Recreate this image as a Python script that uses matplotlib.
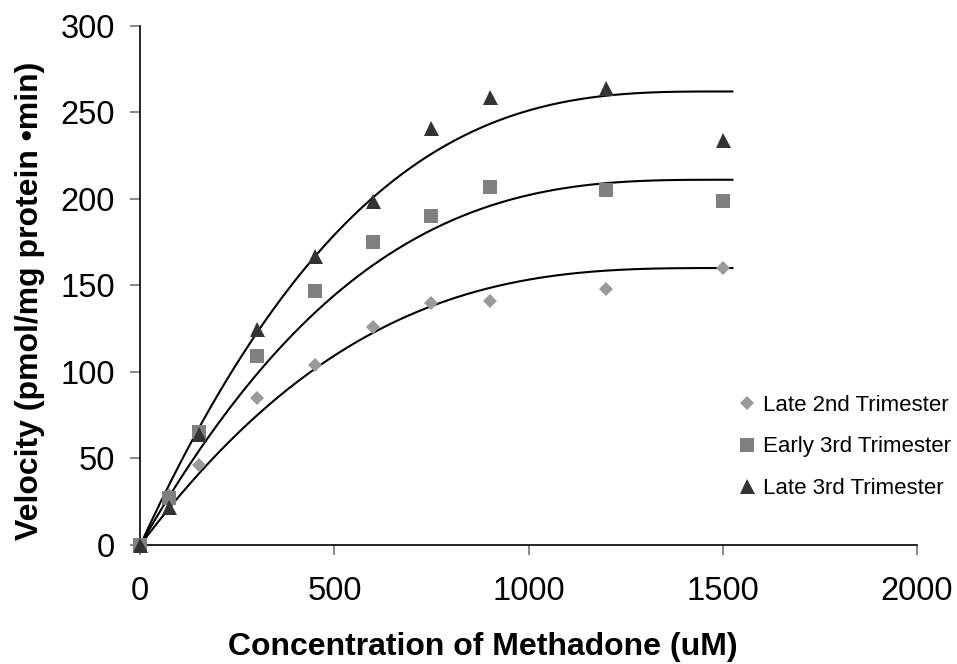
import numpy as np
import matplotlib
matplotlib.use('Agg')
import matplotlib.pyplot as plt

plt.rcParams['font.family'] = ['Liberation Sans', 'DejaVu Sans']

conc = [0, 75, 150, 300, 450, 600, 750, 900, 1200, 1500]
late_2nd = [0, 29, 46, 85, 104, 126, 140, 141, 148, 160]
early_3rd = [0, 27, 65, 109, 147, 175, 190, 207, 205, 199]
late_3rd = [0, 22, 64, 125, 167, 199, 241, 259, 264, 234]

# saturation trendline: plateau * (1 - (1 - t)^3 * (1 + k t)), t = x / x_flat
plateaus = [160, 211, 262]
x_flat = 1500
k = 0.2
x_end = 1525

series = [
    ("Late 2nd Trimester", late_2nd, 'D', '#9a9a9a', 7.2),
    ("Early 3rd Trimester", early_3rd, 's', '#808080', 9.4),
    ("Late 3rd Trimester", late_3rd, '^', '#333333', 10.8),
]

fig = plt.figure(figsize=(9.57, 6.64), dpi=100)
ax = fig.add_axes([0.1466, 0.1792, 0.8114, 0.7821])

x_fit = np.linspace(0, x_end, 300)
t = np.clip(x_fit / x_flat, 0, 1)
shape = 1 - (1 - t) ** 3 * (1 + k * t)
for (name, vals, mk, col, ms), vmax in zip(series, plateaus):
    ax.plot(conc, vals, linestyle='none', marker=mk, color=col, markersize=ms,
            markeredgewidth=0, label=name, zorder=3, clip_on=False)
    ax.plot(x_fit, vmax * shape, color='black', lw=1.5, zorder=2)

ax.set_xlim(0, 2000)
ax.set_ylim(0, 300)
ax.set_xticks([0, 500, 1000, 1500, 2000])
ax.set_yticks([0, 50, 100, 150, 200, 250, 300])
for s in ['top', 'right']:
    ax.spines[s].set_visible(False)
for s in ['left', 'bottom']:
    ax.spines[s].set_linewidth(1.2)
ax.tick_params(direction='out', length=7.2, width=1.2, color='#777777',
               labelsize=23.5)
ax.tick_params(axis='x', pad=15)
ax.tick_params(axis='y', pad=11)

ax.set_xlabel("Concentration of Methadone (uM)", fontsize=23, fontweight='bold',
              labelpad=18, x=0.441)
ax.set_ylabel("Velocity (pmol/mg protein \u2022min)", fontsize=23, fontweight='bold',
              labelpad=11, y=0.471)

leg = fig.legend(loc='upper left', bbox_to_anchor=(0.7687, 0.405), frameon=False,
                 fontsize=16, handletextpad=0.22, labelspacing=0.91, handlelength=1.0,
                 borderpad=0, borderaxespad=0)

fig.savefig('out.png', dpi=100)
